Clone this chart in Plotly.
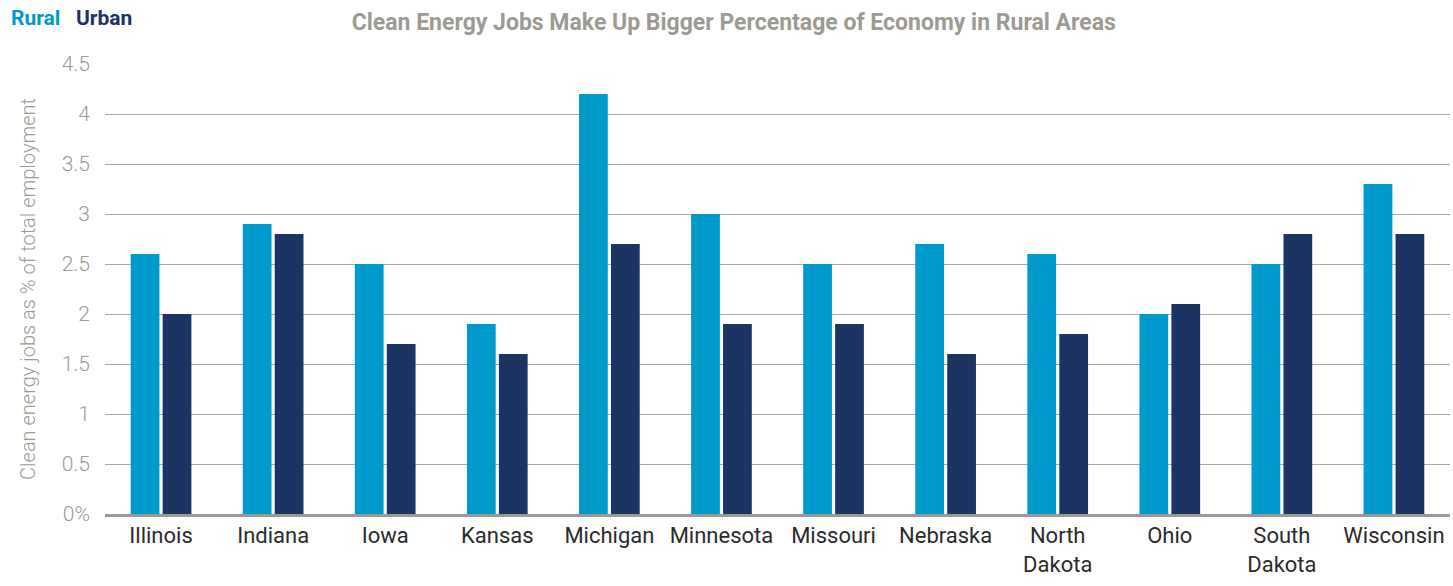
import plotly.graph_objects as go

states = ["Illinois", "Indiana", "Iowa", "Kansas", "Michigan", "Minnesota",
          "Missouri", "Nebraska", "North<br>Dakota", "Ohio", "South<br>Dakota", "Wisconsin"]
rural = [2.6, 2.9, 2.5, 1.9, 4.2, 3.0, 2.5, 2.7, 2.6, 2.0, 2.5, 3.3]
urban = [2.0, 2.8, 1.7, 1.6, 2.7, 1.9, 1.9, 1.6, 1.8, 2.1, 2.8, 2.8]
y_ticks = [0, 0.5, 1, 1.5, 2, 2.5, 3, 3.5, 4, 4.5]
y_tick_text = ["0%", "0.5", "1", "1.5", "2", "2.5", "3", "3.5", "4", "4.5"]

RURAL_C = "#0099cc"
URBAN_C = "#1c3461"
GRAY = "#9b9b91"
FONT = "Roboto, Arial, sans-serif"

fig = go.Figure()
fig.add_trace(go.Bar(x=states, y=rural, name="Rural", marker_color=RURAL_C, marker_line_width=0))
fig.add_trace(go.Bar(x=states, y=urban, name="Urban", marker_color=URBAN_C, marker_line_width=0))

fig.update_layout(
    width=1453, height=586,
    margin=dict(l=105, r=3, t=64, b=72),
    barmode="group", bargap=0.43, bargroupgap=0.1,
    showlegend=False,
    plot_bgcolor="white", paper_bgcolor="white",
    font=dict(family=FONT),
    title=dict(text="<b>Clean Energy Jobs Make Up Bigger Percentage of Economy in Rural Areas</b>",
               x=0.505, xanchor="center", y=0.962, yanchor="middle",
               font=dict(size=23, color=GRAY, family=FONT)),
)

fig.update_yaxes(
    range=[0, 4.5], tickvals=y_ticks, ticktext=y_tick_text,
    showgrid=True, gridcolor="#a9a9a2", gridwidth=1,
    tickfont=dict(size=21, color=GRAY, weight=300), ticks="", ticklabelstandoff=14,
    zeroline=False, showline=False,
    title=dict(text="Clean energy jobs as % of total employment",
               font=dict(size=20, color=GRAY, weight=300), standoff=20),
)
fig.update_xaxes(
    tickfont=dict(size=22, color="#2b2b2b"), ticks="",
    showline=True, linecolor="#9a9a92", linewidth=3,
    tickangle=0,
)

fig.add_annotation(text="<b>Rural</b>", xref="paper", yref="paper",
                   x=-96 / 1345, y=1 + 46 / 450, xanchor="left", yanchor="middle",
                   showarrow=False, font=dict(size=21, color=RURAL_C, family=FONT))
fig.add_annotation(text="<b>Urban</b>", xref="paper", yref="paper",
                   x=-31 / 1345, y=1 + 46 / 450, xanchor="left", yanchor="middle",
                   showarrow=False, font=dict(size=21, color=URBAN_C, family=FONT))

fig.write_html("out.html")
